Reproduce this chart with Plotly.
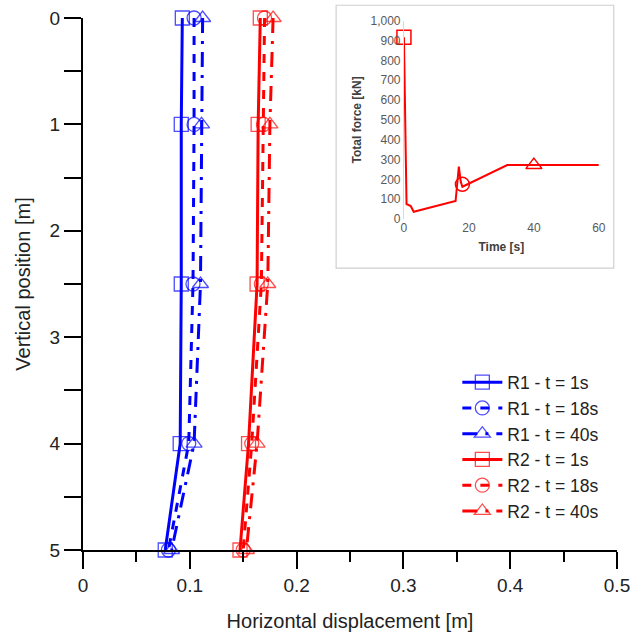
import plotly.graph_objects as go

# ---- main chart data ----
depth = [0, 1, 2.5, 4, 5]
r1_t1 = [0.093, 0.092, 0.092, 0.091, 0.077]
r1_t18 = [0.104, 0.104, 0.103, 0.099, 0.080]
r1_t40 = [0.112, 0.111, 0.110, 0.104, 0.083]
r2_t1 = [0.166, 0.164, 0.163, 0.155, 0.147]
r2_t18 = [0.170, 0.169, 0.167, 0.158, 0.150]
r2_t40 = [0.178, 0.175, 0.173, 0.163, 0.153]

series_names = ["R1 - t = 1s", "R1 - t = 18s", "R1 - t = 40s",
                "R2 - t = 1s", "R2 - t = 18s", "R2 - t = 40s"]

# ---- inset data ----
time_s = [0, 0.8, 2.1, 3, 15.9, 16.9, 17.5, 18, 31.8, 60]
force_kn = [916, 76, 66, 37, 91, 264, 188, 163, 272, 272]
time_mk = [0, 18, 40]
force_mk = [916, 175, 272]

FONT = "Liberation Sans, Arial, sans-serif"
BLUE = "#0000ff"
RED = "#ff0000"

fig = go.Figure()

styles = [
    (r1_t1, BLUE, "solid", "square-open"),
    (r1_t18, BLUE, "9px,9px", "circle-open"),
    (r1_t40, BLUE, "15px,8px,3px,8px", "triangle-up-open"),
    (r2_t1, RED, "solid", "square-open"),
    (r2_t18, RED, "9px,9px", "circle-open"),
    (r2_t40, RED, "15px,8px,3px,8px", "triangle-up-open"),
]
for name, (vals, col, dash, sym) in zip(series_names, styles):
    fig.add_trace(go.Scatter(
        x=vals, y=depth, name=name, mode="lines+markers",
        line=dict(color=col, width=3, dash=dash),
        marker=dict(symbol=sym, size=14, color=col, line=dict(width=1.3, color=col), opacity=0.7),
        xaxis="x", yaxis="y", cliponaxis=False,
    ))

# inset
fig.add_trace(go.Scatter(
    x=time_s, y=force_kn, mode="lines", line=dict(color=RED, width=2),
    xaxis="x2", yaxis="y2", showlegend=False, cliponaxis=False,
))
fig.add_trace(go.Scatter(
    x=time_mk, y=force_mk, mode="markers",
    marker=dict(symbol=["square-open", "circle-open", "triangle-up-open"], size=14,
                color=RED, line=dict(width=1.5, color=RED)),
    xaxis="x2", yaxis="y2", showlegend=False, cliponaxis=False,
))

# inset box
fig.add_shape(type="rect", xref="paper", yref="paper",
              x0=0.474, x1=0.994, y0=0.530, y1=1.024,
              line=dict(color="#d0d0d0", width=1.2), fillcolor="white", layer="below")

fig.update_layout(
    width=631, height=636,
    margin=dict(l=83, r=14, t=18, b=86),
    paper_bgcolor="white", plot_bgcolor="rgba(0,0,0,0)",
    font=dict(family=FONT, color="#222222"),
    xaxis=dict(
        domain=[0, 1], range=[0, 0.5], dtick=0.1, tick0=0, automargin=False,
        showgrid=False, zeroline=False,
        showline=True, linecolor="black", linewidth=2.2,
        ticks="outside", ticklen=17, tickwidth=2.2, tickcolor="black",
        minor=dict(dtick=0.05, ticks="outside", ticklen=10, tickwidth=2.2, tickcolor="black"),
        tickfont=dict(size=19, family=FONT, color="#222222"),
        title=dict(text="Horizontal displacement [m]", font=dict(size=20, family=FONT, color="#222222"), standoff=19),
        anchor="y",
    ),
    yaxis=dict(
        domain=[0, 1], range=[5, 0], dtick=1, tick0=0, automargin=False,
        showgrid=False, zeroline=False,
        showline=True, linecolor="black", linewidth=2.2,
        ticks="outside", ticklen=17, tickwidth=2.2, tickcolor="black",
        minor=dict(dtick=0.5, ticks="outside", ticklen=17, tickwidth=2.2, tickcolor="black"),
        tickfont=dict(size=19, family=FONT, color="#222222"),
        title=dict(text="Vertical position [m]", font=dict(size=20, family=FONT, color="#222222"), standoff=14),
        anchor="x",
    ),
    xaxis2=dict(
        domain=[0.601, 0.966], range=[0, 60], dtick=20, tick0=0, automargin=False,
        showgrid=False, zeroline=False, showline=False,
        ticks="", tickfont=dict(size=12, family=FONT, color="#595959"),
        title=dict(text="<b>Time [s]</b>", font=dict(size=12, family=FONT, color="#404040"), standoff=8),
        anchor="y2",
    ),
    yaxis2=dict(
        domain=[0.622, 0.995], range=[0, 1000], dtick=100, tick0=0, tickformat=",d", automargin=False,
        showgrid=False, zeroline=False,
        showline=True, linecolor="#d9d9d9", linewidth=1,
        ticks="", tickfont=dict(size=12, family=FONT, color="#595959"),
        title=dict(text="<b>Total force [kN]</b>", font=dict(size=12, family=FONT, color="#404040"), standoff=6),
        anchor="x2",
    ),
    legend=dict(
        x=0.701, y=0.349, xanchor="left", yanchor="top",
        bgcolor="rgba(0,0,0,0)", borderwidth=0,
        font=dict(size=17.5, family=FONT, color="#222222"),
        tracegroupgap=0, itemwidth=40,
    ),
)

fig.write_html("out.html")
